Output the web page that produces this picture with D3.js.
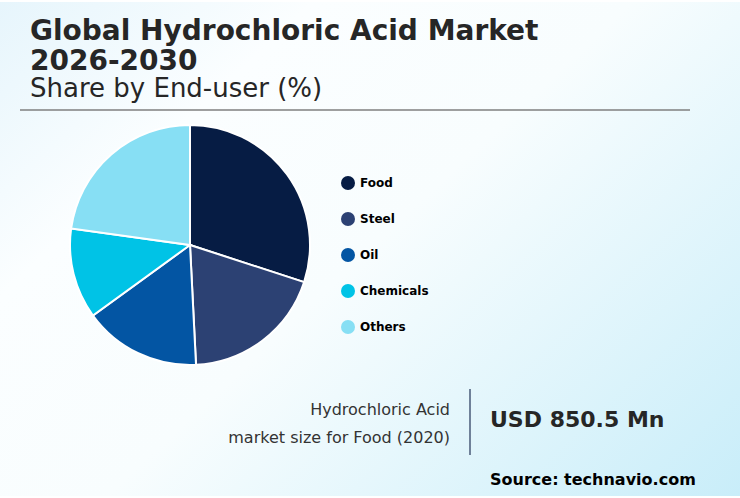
<!DOCTYPE html>
<html>
<head>
<meta charset="utf-8">
<script src="https://cdn.jsdelivr.net/npm/d3@7"></script>
<style>
  html, body { margin: 0; padding: 0; background: #fff; }
  svg { display: block; font-family: "DejaVu Sans", sans-serif; }
</style>
</head>
<body>
<div id="chart"></div>
<script>
const categories = ["Food", "Steel", "Oil", "Chemicals", "Others"];
const shares = [30, 19.2, 15.8, 12.2, 22.8];
const colors = ["#061c44", "#2c4173", "#0355a3", "#00c3e6", "#87dff4"];
const titleLines = ["Global Hydrochloric Acid Market", "2026-2030"];
const subtitle = "Share by End-user (%)";
const sizeLabel = ["Hydrochloric Acid", "market size for Food (2020)"];
const sizeValue = "USD 850.5 Mn";
const source = "Source: technavio.com";

const width = 740, height = 498;

const svg = d3.select("#chart").append("svg")
  .attr("width", width)
  .attr("height", height);

// Background gradient, pale blue corners top left and bottom right
const defs = svg.append("defs");
const bg = defs.append("linearGradient")
  .attr("id", "bg")
  .attr("gradientUnits", "userSpaceOnUse")
  .attr("x1", 70).attr("y1", -70)
  .attr("x2", 670).attr("y2", 568);
bg.append("stop").attr("offset", "0").attr("stop-color", "#e6f5fc");
bg.append("stop").attr("offset", "0.25").attr("stop-color", "#fbfeff");
bg.append("stop").attr("offset", "0.5").attr("stop-color", "#f8fdfe");
bg.append("stop").attr("offset", "1").attr("stop-color", "#c8edf9");

svg.append("rect")
  .attr("y", 2)
  .attr("width", width)
  .attr("height", height - 4)
  .attr("fill", "url(#bg)");

// Title block
svg.selectAll(".title")
  .data(titleLines)
  .join("text")
  .attr("class", "title")
  .attr("x", 30)
  .attr("y", (d, i) => 40 + i * 30)
  .attr("font-size", 28)
  .attr("font-weight", "bold")
  .attr("fill", "#262626")
  .text(d => d);

svg.append("text")
  .attr("x", 30)
  .attr("y", 97)
  .attr("font-size", 26)
  .attr("fill", "#262626")
  .text(subtitle);

svg.append("line")
  .attr("x1", 20).attr("x2", 690)
  .attr("y1", 110).attr("y2", 110)
  .attr("stroke", "#7f7f7f")
  .attr("stroke-width", 1.5);

// Pie
const pie = d3.pie().sort(null);
const arc = d3.arc().innerRadius(0).outerRadius(120);

svg.append("g")
  .attr("transform", "translate(190,245)")
  .selectAll("path")
  .data(pie(shares))
  .join("path")
  .attr("d", arc)
  .attr("fill", (d, i) => colors[i])
  .attr("stroke", "#fff")
  .attr("stroke-width", 2);

// Legend
const legendY = d3.scalePoint().domain(categories).range([183, 327]);

const legend = svg.selectAll(".legend")
  .data(categories)
  .join("g")
  .attr("class", "legend")
  .attr("transform", d => `translate(348,${legendY(d)})`);

legend.append("circle")
  .attr("r", 7)
  .attr("fill", (d, i) => colors[i]);

legend.append("text")
  .attr("x", 12)
  .attr("y", 4)
  .attr("font-size", 12)
  .attr("font-weight", "bold")
  .attr("fill", "#000")
  .text(d => d);

// Market size callout
svg.selectAll(".size-label")
  .data(sizeLabel)
  .join("text")
  .attr("class", "size-label")
  .attr("x", 450)
  .attr("y", (d, i) => 415 + i * 28)
  .attr("text-anchor", "end")
  .attr("font-size", 16)
  .attr("fill", "#333")
  .text(d => d);

svg.append("line")
  .attr("x1", 470).attr("x2", 470)
  .attr("y1", 389).attr("y2", 455)
  .attr("stroke", "#6f8199")
  .attr("stroke-width", 2);

svg.append("text")
  .attr("x", 490)
  .attr("y", 427)
  .attr("font-size", 22)
  .attr("font-weight", "bold")
  .attr("fill", "#262626")
  .text(sizeValue);

svg.append("text")
  .attr("x", 490)
  .attr("y", 485)
  .attr("font-size", 16)
  .attr("font-weight", "bold")
  .attr("fill", "#000")
  .text(source);
</script>
</body>
</html>
